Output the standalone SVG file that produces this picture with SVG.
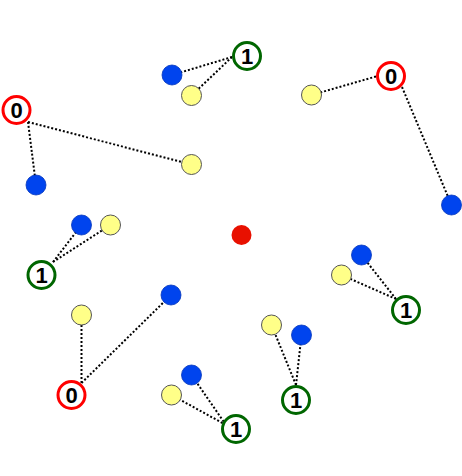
<svg xmlns="http://www.w3.org/2000/svg" width="462" height="476" viewBox="0 0 462 476">
<style>
.lnk{stroke:#000;stroke-width:2;stroke-dasharray:2,2;fill:none}
.blue{fill:#0044ee;stroke:#0033bb;stroke-width:0.8}
.yel{fill:#ffff88;stroke:#555;stroke-width:1}
.red{fill:#e81000}
.z{fill:#fff;stroke:#ff0000;stroke-width:3}
.o{fill:#fff;stroke:#006600;stroke-width:3}
text{font-family:"Liberation Sans",Arial,sans-serif;font-weight:bold;font-size:22px;fill:#000;text-anchor:middle}
</style>
<rect width="462" height="476" fill="#fff"/>
<g id="connectors">
<line class="lnk" x1="232" y1="57" x2="172" y2="75"/>
<line class="lnk" x1="232" y1="57" x2="191.5" y2="95.5"/>
<line class="lnk" x1="28" y1="122" x2="36" y2="185"/>
<line class="lnk" x1="28" y1="122" x2="191.5" y2="164.5"/>
<line class="lnk" x1="376" y1="76.5" x2="311.5" y2="95"/>
<line class="lnk" x1="402" y1="87" x2="451.5" y2="205"/>
<line class="lnk" x1="53" y1="262" x2="81.5" y2="225"/>
<line class="lnk" x1="53" y1="262" x2="110.5" y2="225"/>
<line class="lnk" x1="396" y1="299" x2="361.5" y2="255"/>
<line class="lnk" x1="396" y1="299" x2="341.5" y2="275"/>
<line class="lnk" x1="81.5" y1="383" x2="81.5" y2="315"/>
<line class="lnk" x1="81.5" y1="383" x2="171" y2="295"/>
<line class="lnk" x1="226" y1="425" x2="191.5" y2="375"/>
<line class="lnk" x1="226" y1="425" x2="171.5" y2="395"/>
<line class="lnk" x1="296" y1="385" x2="271.5" y2="325"/>
<line class="lnk" x1="296" y1="385" x2="301.5" y2="335"/>
</g>
<g id="center"><circle class="red" cx="241.5" cy="235" r="10"/></g>
<g id="b1"><circle class="blue" cx="172" cy="75" r="10"/></g>
<g id="y1"><circle class="yel" cx="191.5" cy="95.5" r="10"/></g>
<g id="b2"><circle class="blue" cx="36" cy="185" r="10"/></g>
<g id="y2"><circle class="yel" cx="191.5" cy="164.5" r="10"/></g>
<g id="y3"><circle class="yel" cx="311.5" cy="95" r="10"/></g>
<g id="b3"><circle class="blue" cx="451.5" cy="205" r="10"/></g>
<g id="b4"><circle class="blue" cx="81.5" cy="225" r="10"/></g>
<g id="y4"><circle class="yel" cx="110.5" cy="225" r="10"/></g>
<g id="b5"><circle class="blue" cx="361.5" cy="255" r="10"/></g>
<g id="y5"><circle class="yel" cx="341.5" cy="275" r="10"/></g>
<g id="y6"><circle class="yel" cx="81.5" cy="315" r="10"/></g>
<g id="b6"><circle class="blue" cx="171" cy="295" r="10"/></g>
<g id="b7"><circle class="blue" cx="191.5" cy="375" r="10"/></g>
<g id="y7"><circle class="yel" cx="171.5" cy="395" r="10"/></g>
<g id="y8"><circle class="yel" cx="271.5" cy="325" r="10"/></g>
<g id="b8"><circle class="blue" cx="301.5" cy="335" r="10"/></g>
<g id="n1"><circle class="o" cx="247" cy="56" r="13.5"/><text x="247" y="64">1</text></g>
<g id="n2"><circle class="z" cx="16.5" cy="110" r="13.5"/><text x="16.5" y="118">0</text></g>
<g id="n3"><circle class="z" cx="391" cy="76" r="13.5"/><text x="391" y="84">0</text></g>
<g id="n4"><circle class="o" cx="41.5" cy="275" r="13.5"/><text x="41.5" y="283">1</text></g>
<g id="n5"><circle class="o" cx="406" cy="310" r="13.5"/><text x="406" y="318">1</text></g>
<g id="n6"><circle class="z" cx="71.5" cy="395" r="13.5"/><text x="71.5" y="403">0</text></g>
<g id="n7"><circle class="o" cx="236" cy="429" r="13.5"/><text x="236" y="437">1</text></g>
<g id="n8"><circle class="o" cx="296" cy="400" r="13.5"/><text x="296" y="408">1</text></g>
</svg>
